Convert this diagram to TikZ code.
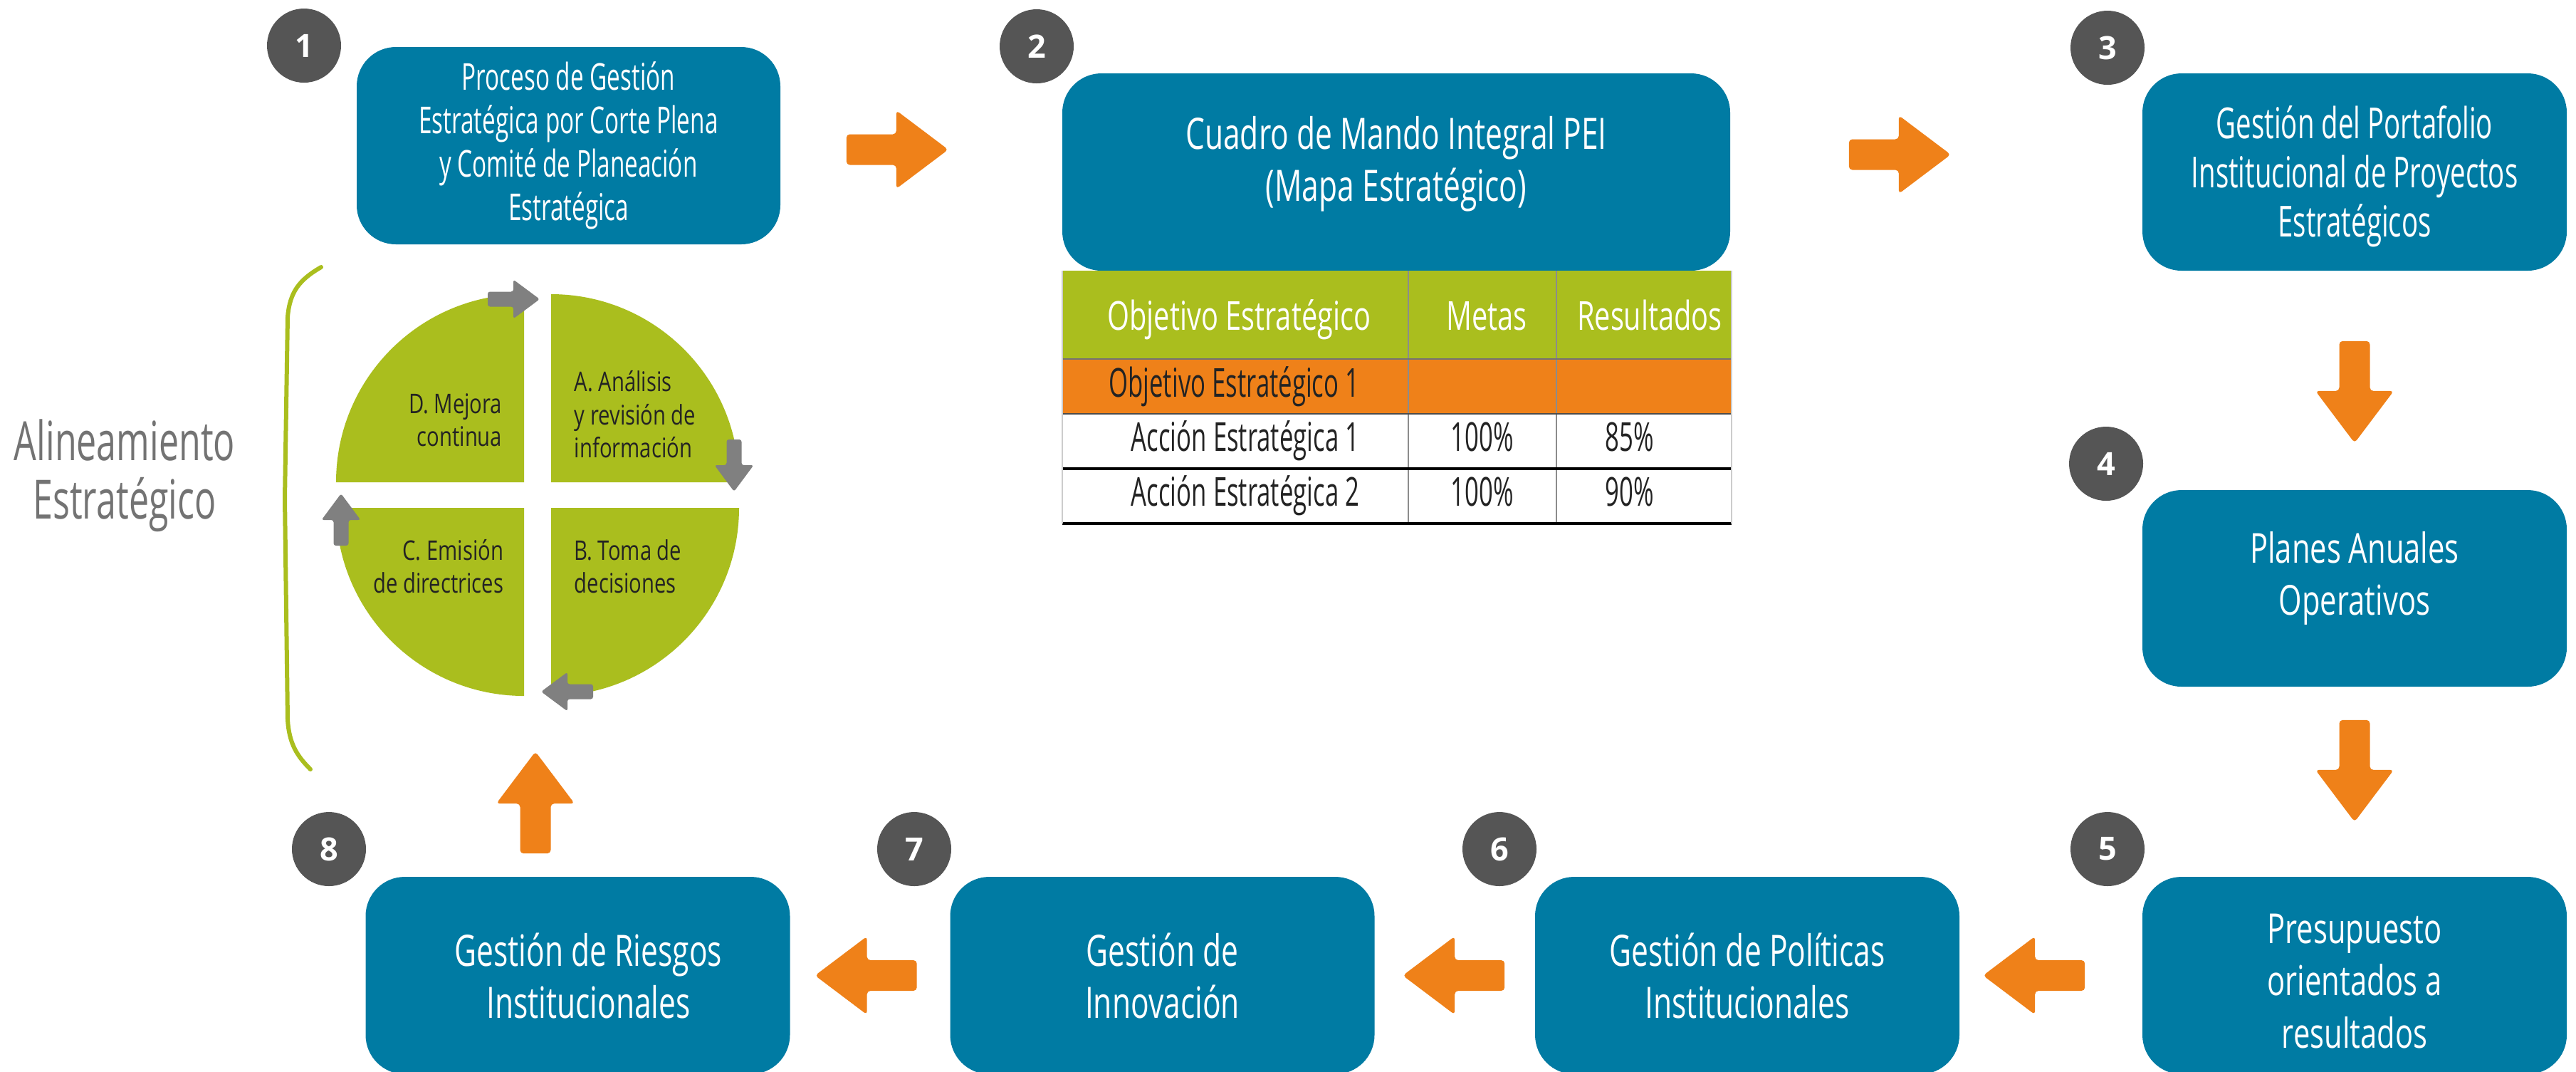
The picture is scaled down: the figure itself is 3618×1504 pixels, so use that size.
\documentclass[tikz,border=0pt]{standalone}
\usepackage{fontspec}
\setmainfont{Open Sans}[FakeStretch=0.72]
\newfontfamily\famBoxS{Open Sans}[FakeStretch=0.64]
\newfontfamily\famBoxL{Open Sans}[FakeStretch=0.70]
\newfontfamily\famBoxM{Open Sans}[FakeStretch=0.72]
\newfontfamily\famHead{Open Sans}[FakeStretch=0.71]
\newfontfamily\famCell{Open Sans}[FakeStretch=0.62]
\newfontfamily\famCyc{Open Sans}[FakeStretch=0.77]
\newfontfamily\famLab{Open Sans}[FakeStretch=0.66]
\newfontfamily\numfont{Open Sans}
\usetikzlibrary{calc}
\definecolor{boxblue}{RGB}{0,123,163}
\definecolor{arrorange}{RGB}{239,129,25}
\definecolor{leafgreen}{RGB}{170,190,30}
\definecolor{numgray}{RGB}{85,85,85}
\definecolor{cyclegray}{RGB}{128,128,128}
\definecolor{darktext}{RGB}{35,35,35}
\definecolor{labelgray}{RGB}{115,115,115}
\tikzset{
  pics/bigarrow/.style={code={\fill[arrorange, rounded corners=1.2pt] (-72,-21.5) -- (-2,-21.5) -- (-2,-55) -- (71,0) -- (-2,55) -- (-2,21.5) -- (-72,21.5) -- cycle;}},
  pics/smallarrow/.style={code={\fill[cyclegray, rounded corners=0.8pt] (-37,-10.5) -- (-1,-10.5) -- (-1,-27.5) -- (36,0) -- (-1,27.5) -- (-1,10.5) -- (-37,10.5) -- cycle;}},
  box/.style={fill=boxblue, rounded corners=13.75pt, inner sep=0pt, align=center, text=white, minimum width=149pt, minimum height=69.25pt},
  boxtext/.style={inner sep=0pt, align=center, text=white},
  txtS/.style={font=\famBoxS\fontsize{13}{15.25}\selectfont},
  txtT/.style={font=\famBoxS\fontsize{15}{17.25}\selectfont},
  txtL/.style={font=\famBoxL\fontsize{15.2}{18.25}\selectfont},
  txtM/.style={font=\famBoxM\fontsize{14.5}{18.3}\selectfont},
  num/.style={circle, fill=numgray, minimum size=26pt, inner sep=0pt, text=white, font=\numfont\bfseries\fontsize{11.25}{12}\selectfont},
  thead/.style={text=white, inner sep=0pt, font=\famHead\fontsize{14}{15}\selectfont},
  tcell/.style={text=darktext, inner sep=0pt, font=\famCell\fontsize{14}{15}\selectfont},
  cyc/.style={text=darktext, inner sep=0pt, font=\famCyc\fontsize{9.5}{11.6}\selectfont},
}
\begin{document}
\begin{tikzpicture}[x=0.25pt,y=-0.25pt]
\useasboundingbox (0,0) rectangle (3618,1504);
\fill[white] (0,0) rectangle (3618,1504);

% main boxes
\node[box, txtS, minimum width=148.75pt] (b1) at (798.5,204.5) {Proceso de Gestión\\Estratégica por Corte Plena\\y Comité de Planeación\\Estratégica};
\node[box, minimum width=234.5pt] (b2) at (1961,241.5) {};
\node[boxtext, txtL] (b2t) at ($(b2.center)+(0,-11)$) {Cuadro de Mando Integral PEI\\(Mapa Estratégico)};
\node[box] (b3) at (3307,241.5) {};
\node[boxtext, txtT] (b3t) at ($(b3.center)+(0,6)$) {Gestión del Portafolio\\Institucional de Proyectos\\Estratégicos};
\node[box, minimum height=69pt] (b4) at (3307,826) {};
\node[boxtext, txtM] (b4t) at ($(b4.center)+(0,-14)$) {Planes Anuales\\Operativos};
\node[box] (b5) at (3307,1369.5) {};
\node[boxtext, txtM] (b5t) at ($(b5.center)+(0,8)$) {Presupuesto\\orientados a\\resultados};
\node[box, txtL] (b6) at (2454,1369.5) {Gestión de Políticas\\Institucionales};
\node[box, txtL] (b7) at (1632.5,1369.5) {Gestión de\\Innovación};
\node[box] (b8) at (811.5,1369.5) {};
\node[boxtext, txtL] (b8t) at ($(b8.center)+(15,0)$) {Gestión de Riesgos\\Institucionales};

% number badges
\node[num] (n1) at (427,64) {1};
\node[num] (n2) at (1456,65) {2};
\node[num] (n3) at (2960,67) {3};
\node[num] (n4) at (2958,651) {4};
\node[num] (n5) at (2960,1192) {5};
\node[num] (n6) at (2106,1192) {6};
\node[num] (n7) at (1284,1192) {7};
\node[num] (n8) at (462,1192) {8};

% flow arrows
\pic at ($(b1.east)+(164,5.5)$) {bigarrow};
\pic at ($(b2.east)+(238,-24.5)$) {bigarrow};
\pic[rotate=-90] at ($(b3.south)+(0,170)$) {bigarrow};
\pic[rotate=-90] at ($(b4.south)+(0,118)$) {bigarrow};
\pic[rotate=180] at ($(b5.west)+(-152,0)$) {bigarrow};
\pic[rotate=180] at ($(b6.west)+(-114,0)$) {bigarrow};
\pic[rotate=180] at ($(b7.west)+(-118,0)$) {bigarrow};
\pic[rotate=90] at ($(b8.north)+(-59.5,-104)$) {bigarrow};

% table under box 2
\fill[leafgreen] (1492,380) rectangle (2432,504);
\fill[arrorange] (1492,504) rectangle (2432,581);
\draw[black!45, line width=0.4pt] (1978,380) -- (1978,735) (2186,380) -- (2186,735);
\draw[black!55, line width=0.4pt] (1492,504) -- (2432,504);
\draw[black!70, line width=0.4pt] (1492,581) -- (2432,581);
\draw[black, line width=0.8pt] (1492,658) -- (2432,658);
\draw[black, line width=0.8pt] (1492,735) -- (2432,735);
\draw[black!20, line width=0.6pt] (1492,380) -- (1492,735) (2432,380) -- (2432,735);
\node[thead, anchor=base east] (th1) at (1926,463) {Objetivo Estratégico};
\node[thead, anchor=base] (th2) at (2088,463) {Metas};
\node[thead, anchor=base] (th3) at (2317,463) {Resultados};
\node[tcell, anchor=base east] (r1) at (1910,557) {Objetivo Estratégico 1};
\node[tcell, anchor=base east] (r2) at (1910,633) {Acción Estratégica 1};
\node[tcell, anchor=base] (r2m) at (2082,633) {100\%};
\node[tcell, anchor=base] (r2r) at (2289,633) {85\%};
\node[tcell, anchor=base east] (r3) at (1910,710) {Acción Estratégica 2};
\node[tcell, anchor=base] (r3m) at (2082,710) {100\%};
\node[tcell, anchor=base] (r3r) at (2289,710) {90\%};

% cycle quadrants
\fill[leafgreen] (736,677) -- (472,677) arc[start angle=180, end angle=270, radius=264] -- cycle;
\fill[leafgreen] (774,677) -- (774,413) arc[start angle=270, end angle=360, radius=264] -- cycle;
\fill[leafgreen] (774,713) -- (1038,713) arc[start angle=0, end angle=90, radius=264] -- cycle;
\fill[leafgreen] (736,713) -- (736,977) arc[start angle=90, end angle=180, radius=264] -- cycle;
\node[cyc, align=right, anchor=east] (qd) at (706,590) {D. Mejora\\continua};
\node[cyc, align=left, anchor=west] (qa) at (806,582) {A. Análisis\\y revisión de\\información};
\node[cyc, align=right, anchor=east] (qc) at (708,795) {C. Emisión\\de directrices};
\node[cyc, align=left, anchor=west] (qb) at (806,795) {B. Toma de\\decisiones};
\pic at (722,420) {smallarrow};
\pic[rotate=-90] at (1031,654) {smallarrow};
\pic[rotate=180] at (796,971) {smallarrow};
\pic[rotate=90] at (479,729) {smallarrow};

% bracket and label
\draw[leafgreen, line width=1.5pt, line cap=round] (451,375) .. controls (420,393) and (407,410) .. (404,445) -- (400,700) -- (404,1010) .. controls (406,1045) and (418,1062) .. (436,1080);
\node[text=labelgray, align=center, inner sep=0pt, font=\famLab\fontsize{19}{20.5}\selectfont] (lab) at (175,668) {Alineamiento\\Estratégico};
\end{tikzpicture}
\end{document}
